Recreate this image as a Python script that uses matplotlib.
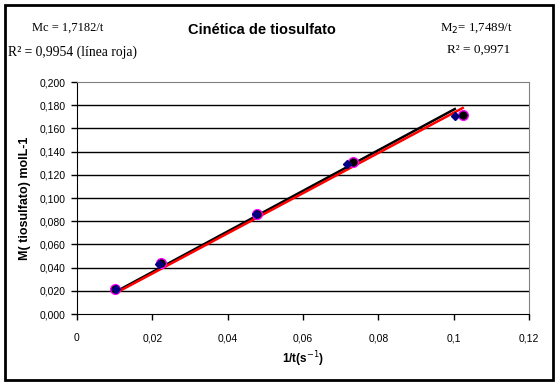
import matplotlib
matplotlib.use("Agg")
import matplotlib.pyplot as plt
from matplotlib.patches import Rectangle

# Data
x_diamonds = [0.0103, 0.0218, 0.0475, 0.0716, 0.1003]
y_diamonds = [0.0216, 0.0435, 0.0862, 0.1293, 0.1707]
x_circles = [0.0102, 0.0222, 0.0477, 0.0732, 0.1024]
y_circles = [0.0212, 0.0440, 0.0860, 0.1310, 0.1716]

red_x = [0.0103, 0.1024]
red_y = [0.0181, 0.1776]
black_x = [0.0103, 0.1003]
black_y = [0.0192, 0.1767]

x_ticks = [0, 0.02, 0.04, 0.06, 0.08, 0.1, 0.12]
x_labels = ["0", "0,02", "0,04", "0,06", "0,08", "0,1", "0,12"]
y_ticks = [0.0, 0.02, 0.04, 0.06, 0.08, 0.10, 0.12, 0.14, 0.16, 0.18, 0.20]
y_labels = ["0,000", "0,020", "0,040", "0,060", "0,080", "0,100",
            "0,120", "0,140", "0,160", "0,180", "0,200"]

title = "Cinética de tiosulfato"
xlabel = "1/t(s$^{-1}$)"
ylabel = "M( tiosulfato) molL-1"

W, H = 559, 386
fig = plt.figure(figsize=(W / 100, H / 100), dpi=100)
ax = fig.add_axes([77 / W, 1 - 314 / H, (529 - 77) / W, (314 - 82) / H])

ax.set_xlim(0, 0.12)
ax.set_ylim(0, 0.2)
ax.set_xticks(x_ticks)
ax.set_xticklabels(x_labels, fontfamily="Liberation Sans", fontsize=7.5)
ax.set_yticks(y_ticks)
ax.set_yticklabels(y_labels, fontfamily="Liberation Sans", fontsize=7.5)
ax.tick_params(direction="out", length=4, width=1, color="black", pad=4)
ax.tick_params(axis="x", pad=10)

for yv in y_ticks[1:-1]:
    ax.axhline(yv, color="black", lw=1, zorder=1)

for s in ["top", "right"]:
    ax.spines[s].set_color("#808080")
for s in ["left", "bottom"]:
    ax.spines[s].set_color("black")

ax.plot(black_x, black_y, color="black", lw=1.8, zorder=3)
ax.plot(red_x, red_y, color="#ff0000", lw=1.8, zorder=4)
ax.plot(x_circles, y_circles, "o", color="black", markeredgecolor="#ff00ff",
        markersize=7, markeredgewidth=1, zorder=5)
ax.plot(x_diamonds, y_diamonds, "D", color="#000080", markeredgecolor="#000080",
        markersize=4.5, zorder=6)

ax.set_xlabel(xlabel, fontfamily="Liberation Sans", fontweight="bold", fontsize=8.5)
ax.set_ylabel(ylabel, fontfamily="Liberation Sans", fontweight="bold", fontsize=9,
              labelpad=6)

fig.text(262 / W, 1 - 30 / H, title, ha="center", va="center",
         fontfamily="Liberation Sans", fontweight="bold", fontsize=10.5)
fig.text(32 / W, 1 - 28 / H, "Mc = 1,7182/t", ha="left", va="center",
         fontfamily="Liberation Serif", fontsize=9)
fig.text(8 / W, 1 - 52 / H, "R² = 0,9954 (línea roja)", ha="left", va="center",
         fontfamily="Liberation Serif", fontsize=9.8)
fig.text(476 / W, 1 - 28 / H, "M$_2$= 1,7489/t", ha="center", va="center",
         fontfamily="Liberation Serif", fontsize=9.3)
fig.text(479 / W, 1 - 50 / H, "R² = 0,9971", ha="center", va="center",
         fontfamily="Liberation Serif", fontsize=9.5)

fig.patches.append(Rectangle((5 / W, 6 / H), 548 / W, 375 / H, transform=fig.transFigure,
                             fill=False, edgecolor="black", lw=2))

fig.savefig("out.png", dpi=100)
